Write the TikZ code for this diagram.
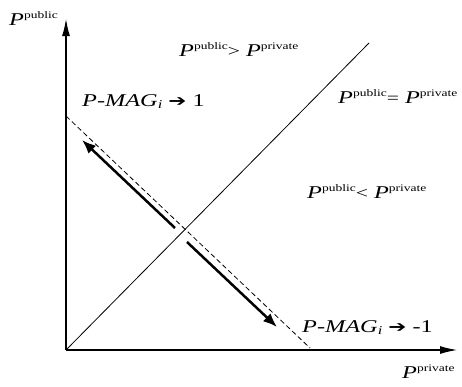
\documentclass[tikz,border=0pt]{standalone}
\usepackage{fontspec}
\setmainfont{Liberation Serif}
\newfontfamily\dejavu{DejaVu Sans}
\usetikzlibrary{arrows.meta}
\newcommand\Pv[1]{\textit{P}\raisebox{6.5pt}{\fontsize{10}{10}\selectfont #1}}
\newcommand\Rel[1]{{\fontsize{16}{16}\selectfont #1}}
\newcommand\Pmag{\textit{P-MAG}\raisebox{-2.5pt}{\fontsize{12}{12}\selectfont\textit{i}}}
\newcommand\Arr{{\dejavu\fontsize{16}{16}\selectfont ➔}}
\newcommand\Wide[1]{\scalebox{1.35}[1]{#1}}
\tikzset{
  lbl/.style={inner sep=0pt, anchor=base west, font=\fontsize{18}{20}\selectfont},
  axis/.style={line width=2pt, -{Latex[length=18pt,width=8pt]}},
  diag/.style={line width=0.8pt},
  dashln/.style={line width=0.8pt, dash pattern=on 5pt off 3pt},
  thickarr/.style={line width=2.5pt, -{Latex[length=14pt,width=11pt]}}
}
\begin{document}
\begin{tikzpicture}[x=1pt,y=-1pt]
\useasboundingbox (0,0) rectangle (462,386);
\coordinate (O) at (66,350);
\coordinate (Xend) at (458,350);
\coordinate (Yend) at (66,18);
\coordinate (Dtop) at (369,43);
\coordinate (Da) at (66,116);
\coordinate (Db) at (310,348);
\coordinate (A1s) at (175,228);
\coordinate (A1e) at (82,140);
\coordinate (A2s) at (187,242);
\coordinate (A2e) at (277,327);

\draw[axis] (O) -- (Xend);
\draw[axis] (O) -- (Yend);
\draw[diag] (O) -- (Dtop);
\draw[dashln] (Da) -- (Db);
\draw[thickarr] (A1s) -- (A1e);
\draw[thickarr] (A2s) -- (A2e);

\node[lbl] (ylab) at (9,25) {\Wide{\Pv{public}}};
\node[lbl] (xlab) at (402,378) {\Wide{\Pv{private}}};
\node[lbl] (gt) at (179,56) {\Wide{\Pv{public}\Rel{>} \Pv{private}}};
\node[lbl] (eq) at (338,103) {\Wide{\Pv{public}\Rel{=} \Pv{private}}};
\node[lbl] (lt) at (307,198) {\Wide{\Pv{public}\Rel{<} \Pv{private}}};
\node[lbl] (m1) at (82,106) {\Wide{\Pmag\ \Arr\ 1}};
\node[lbl] (m2) at (302,332) {\Wide{\Pmag\ \Arr\ -1}};
\end{tikzpicture}
\end{document}
